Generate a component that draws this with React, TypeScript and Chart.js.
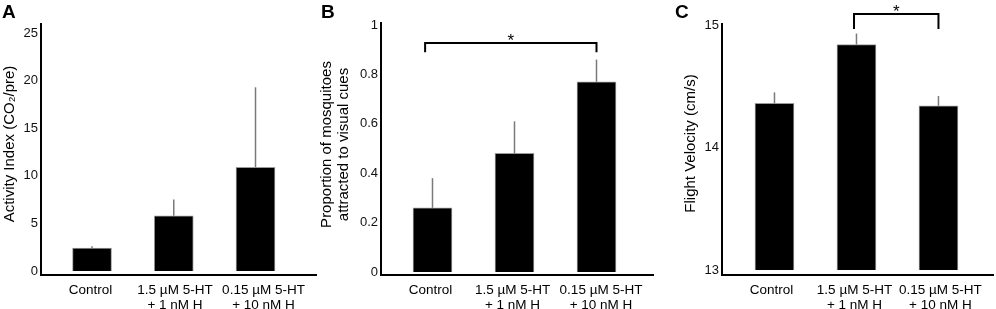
import React, { useEffect, useRef } from 'react';
import { Chart, registerables } from 'chart.js';

Chart.register(...registerables);

const FONT = '"Liberation Sans", Arial, sans-serif';

// ---- data ----
const categories: string[][] = [
  ['Control'],
  ['1.5 µM 5-HT', '+ 1 nM H'],
  ['0.15 µM 5-HT', '+ 10 nM H'],
];
const categoryPositions = [0, 1, 2];

const activityMeans = [2.4, 5.8, 10.9];
const activityErrors = [0.2, 1.7, 8.4];
const activityTicks = [0, 5, 10, 15, 20, 25];

const proportionMeans = [0.26, 0.48, 0.77];
const proportionErrors = [0.12, 0.13, 0.09];
const proportionTicks = [0, 0.2, 0.4, 0.6, 0.8, 1];

const velocityMeans = [14.36, 14.84, 14.34];
const velocityErrors = [0.09, 0.09, 0.08];
const velocityTicks = [13, 14, 15];

type Bracket = { from: number; to: number; y: number; drop: number };

type PanelSpec = {
  letter: string;
  letterLeft: number;
  left: number;
  width: number;
  padLeft: number;
  plotLeft: number;
  plotRight: number;
  plotTop: number;
  plotBottom: number;
  xMin: number;
  xMax: number;
  labelShift: number[];
  yMin: number;
  yMax: number;
  base: number;
  ticks: number[];
  means: number[];
  errors: number[];
  titleLines: string[];
  titleX: number[];
  titleY: number;
  bracket?: Bracket;
};

const HEIGHT = 309;

const panels: PanelSpec[] = [
  {
    letter: 'A', letterLeft: 2,
    left: 0, width: 318, padLeft: 0,
    plotLeft: 41, plotRight: 316, plotTop: 24, plotBottom: 275,
    xMin: -0.624, xMax: 2.74, labelShift: [-0.018, 0.015, 0.098],
    yMin: -0.42, yMax: 25.95, base: 0,
    ticks: activityTicks, means: activityMeans, errors: activityErrors,
    titleLines: ['Activity Index (CO₂/pre)'], titleX: [9.5], titleY: 144,
  },
  {
    letter: 'B', letterLeft: 321,
    left: 318, width: 340, padLeft: 0,
    plotLeft: 63, plotRight: 335, plotTop: 23, plotBottom: 275,
    xMin: -0.628, xMax: 2.689, labelShift: [-0.024, -0.024, 0.055],
    yMin: -0.012, yMax: 1.008, base: 0,
    ticks: proportionTicks, means: proportionMeans, errors: proportionErrors,
    titleLines: ['Proportion of mosquitoes', 'attracted to visual cues'], titleX: [8.5, 26], titleY: 144.5,
    bracket: { from: -0.09, to: 2.0, y: 0.927, drop: 0.89 },
  },
  {
    letter: 'C', letterLeft: 675,
    left: 680, width: 316, padLeft: 0,
    plotLeft: 42, plotRight: 313, plotTop: 24, plotBottom: 275,
    xMin: -0.64, xMax: 2.665, labelShift: [-0.037, -0.024, 0.024],
    yMin: 12.96, yMax: 15.008, base: 13,
    ticks: velocityTicks, means: velocityMeans, errors: velocityErrors,
    titleLines: ['Flight Velocity (cm/s)'], titleX: [11], titleY: 143.5,
    bracket: { from: 0.97, to: 2.0, y: 15.09, drop: 14.967 },
  },
];

function Panel({ spec }: { spec: PanelSpec }) {
  const ref = useRef<HTMLCanvasElement>(null);

  useEffect(() => {
    if (!ref.current) return;
    const s = spec;
    const labelPositions = categoryPositions.map((p, i) => p + s.labelShift[i]);

    const overlay = {
      id: 'overlay',
      afterDatasetsDraw(chart: any) {
        const ctx = chart.ctx as CanvasRenderingContext2D;
        const xs = chart.scales.x;
        const ys = chart.scales.y;
        ctx.save();
        // error bars (upper only)
        ctx.strokeStyle = '#7a7a7a';
        ctx.lineWidth = 1.5;
        s.means.forEach((m, i) => {
          const x = xs.getPixelForValue(categoryPositions[i]);
          ctx.beginPath();
          ctx.moveTo(x, ys.getPixelForValue(m));
          ctx.lineTo(x, ys.getPixelForValue(m + s.errors[i]));
          ctx.stroke();
        });
        // significance bracket
        if (s.bracket) {
          const b = s.bracket;
          const x1 = xs.getPixelForValue(b.from);
          const x2 = xs.getPixelForValue(b.to);
          const yt = ys.getPixelForValue(b.y);
          const yd = ys.getPixelForValue(b.drop);
          ctx.strokeStyle = '#000';
          ctx.lineWidth = 2;
          ctx.beginPath();
          ctx.moveTo(x1, yd);
          ctx.lineTo(x1, yt);
          ctx.lineTo(x2, yt);
          ctx.lineTo(x2, yd);
          ctx.stroke();
          ctx.fillStyle = '#000';
          ctx.font = `17px ${FONT}`;
          ctx.textAlign = 'center';
          ctx.textBaseline = 'alphabetic';
          ctx.fillText('*', (x1 + x2) / 2, yt + 3);
        }
        // y-axis title
        ctx.fillStyle = '#000';
        ctx.font = `15px ${FONT}`;
        ctx.textAlign = 'center';
        ctx.textBaseline = 'middle';
        s.titleLines.forEach((line, i) => {
          ctx.save();
          ctx.translate(s.titleX[i], s.titleY);
          ctx.rotate(-Math.PI / 2);
          ctx.fillText(line, 0, 0);
          ctx.restore();
        });
        ctx.restore();
      },
    };

    const chart = new Chart(ref.current, {
      type: 'bar',
      data: {
        datasets: [
          {
            data: s.means.map((m, i) => ({ x: categoryPositions[i], y: m })),
            backgroundColor: '#000',
            borderColor: '#9a9a9a',
            borderWidth: 1,
            barThickness: 39,
            base: s.base,
          } as any,
        ],
      },
      options: {
        animation: false,
        responsive: true,
        maintainAspectRatio: false,
        layout: {
          padding: {
            left: s.padLeft,
            right: s.width - s.plotRight,
            top: s.plotTop,
            bottom: 0,
          },
        },
        plugins: {
          legend: { display: false },
          tooltip: { enabled: false },
          title: { display: false },
        },
        scales: {
          x: {
            type: 'linear',
            min: s.xMin,
            max: s.xMax,
            bounds: 'data',
            offset: false,
            grid: { display: false, offset: false, drawTicks: false },
            border: { display: true, color: '#000', width: 2 },
            afterBuildTicks: (sc: any) => {
              sc.ticks = labelPositions.map((v) => ({ value: v }));
            },
            afterFit: (sc: any) => {
              sc.height = HEIGHT - s.plotBottom;
            },
            ticks: {
              autoSkip: false,
              maxRotation: 0,
              minRotation: 0,
              padding: 8,
              color: '#000',
              font: { family: FONT, size: 13.5, lineHeight: 1.08 },
              callback: (v: any) => {
                const idx = labelPositions.indexOf(Number(v));
                return idx >= 0 ? categories[idx] : '';
              },
            },
          } as any,
          y: {
            type: 'linear',
            min: s.yMin,
            max: s.yMax,
            bounds: 'data',
            grid: { display: false, drawTicks: false },
            border: { display: true, color: '#000', width: 2 },
            afterBuildTicks: (sc: any) => {
              sc.ticks = s.ticks.map((v) => ({ value: v }));
            },
            afterFit: (sc: any) => {
              sc.width = s.plotLeft - s.padLeft;
            },
            ticks: {
              padding: 3,
              color: '#111',
              font: { family: FONT, size: 13 },
              callback: (v: any) => String(v),
            },
          } as any,
        },
      },
      plugins: [overlay],
    });

    return () => chart.destroy();
  }, [spec]);

  return (
    <div
      style={{
        position: 'absolute',
        left: spec.left,
        top: 0,
        width: spec.width,
        height: HEIGHT,
      }}
    >
      <canvas ref={ref} />
    </div>
  );
}

export default function App() {
  return (
    <div
      style={{
        position: 'absolute',
        left: 0,
        top: 0,
        width: 996,
        height: HEIGHT,
        background: '#fff',
        overflow: 'hidden',
      }}
    >
      {panels.map((p) => (
        <Panel key={p.letter} spec={p} />
      ))}
      {panels.map((p) => (
        <div
          key={'L' + p.letter}
          style={{
            position: 'absolute',
            left: p.letterLeft,
            top: 2,
            fontFamily: FONT,
            fontWeight: 'bold',
            fontSize: 19,
            lineHeight: '19px',
            color: '#000',
          }}
        >
          {p.letter}
        </div>
      ))}
    </div>
  );
}
